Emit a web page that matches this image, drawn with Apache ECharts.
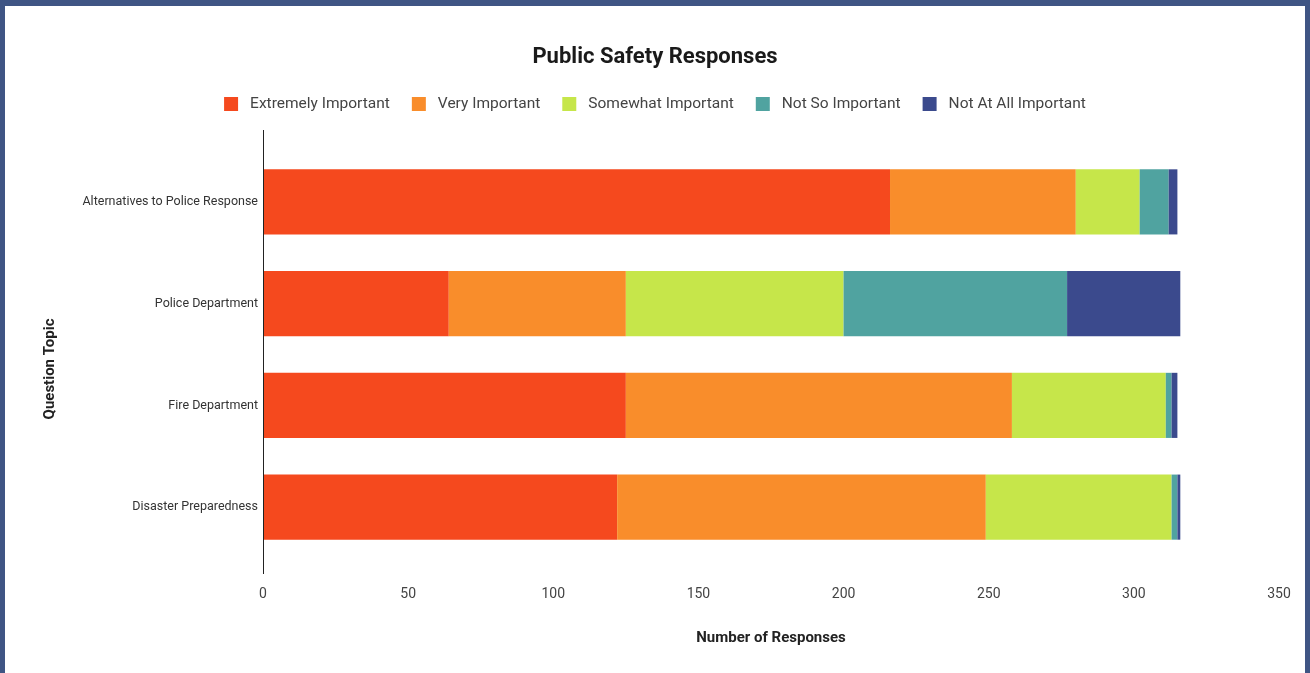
<!DOCTYPE html>
<html>
<head>
<meta charset="utf-8">
<script src="https://cdn.jsdelivr.net/npm/echarts@6/dist/echarts.min.js"></script>
<style>
html,body{margin:0;padding:0;width:1310px;height:673px;background:#3f5584;overflow:hidden;}
#chart{position:absolute;left:5px;top:6px;width:1300px;height:667px;background:#fff;}
</style>
</head>
<body>
<div id="chart"></div>
<script>
const categories = ['Alternatives to Police Response', 'Police Department', 'Fire Department', 'Disaster Preparedness'];
const seriesNames = ['Extremely Important', 'Very Important', 'Somewhat Important', 'Not So Important', 'Not At All Important'];
const extremely = [216, 64, 125, 122];
const very = [64, 61, 133, 127];
const somewhat = [22, 75, 53, 64];
const notSo = [10, 77, 2, 2];
const notAtAll = [3, 39, 2, 1];
const colors = ['#f5491e', '#f98d2b', '#c6e64a', '#50a3a0', '#3b4a8d'];

const values = [extremely, very, somewhat, notSo, notAtAll];
const chart = echarts.init(document.getElementById('chart'), null, {renderer: 'canvas'});
const font = 'Roboto, "Noto Sans", sans-serif';
chart.setOption({
  animation: false,
  title: {
    text: 'Public Safety Responses',
    left: 'center', top: 35,
    textStyle: {fontFamily: font, fontSize: 22, fontWeight: 'bold', color: '#1a1a1a'}
  },
  legend: {
    top: 85, left: 'center',
    itemWidth: 14, itemHeight: 14, itemGap: 22,
    icon: 'rect',
    textStyle: {fontFamily: font, fontSize: 15.5, color: '#444', padding: [0, 0, 0, 7]},
    data: seriesNames
  },
  grid: {left: 258, right: 26, top: 145, bottom: 115, containLabel: false},
  xAxis: {
    type: 'value', min: 0, max: 350, interval: 50,
    name: 'Number of Responses', nameLocation: 'middle', nameGap: 73,
    nameTextStyle: {fontFamily: font, fontSize: 15, fontWeight: 'bold', color: '#222'},
    axisLine: {show: false}, axisTick: {show: false}, splitLine: {show: false},
    axisLabel: {fontFamily: font, fontSize: 14, color: '#444', margin: 29}
  },
  yAxis: {
    type: 'category', inverse: true, data: categories,
    axisLine: {show: false}, axisTick: {show: false},
    axisLabel: {fontFamily: font, fontSize: 12.5, color: '#333', margin: 5}
  },
  graphic: [{
    type: 'line', shape: {x1: 258.5, y1: 124, x2: 258.5, y2: 568},
    style: {stroke: '#222', lineWidth: 1}, z: 10
  }, {
    type: 'text', x: 45, y: 363, rotation: Math.PI / 2,
    style: {text: 'Question Topic', fontFamily: font, fontSize: 15, fontWeight: 'bold', fill: '#222', align: 'center', verticalAlign: 'middle'}
  }],
  series: seriesNames.map((n, i) => ({
    name: n, type: 'bar', stack: 'total', data: values[i],
    barCategoryGap: '36%',
    itemStyle: {color: colors[i]}
  }))
});
</script>
</body>
</html>
